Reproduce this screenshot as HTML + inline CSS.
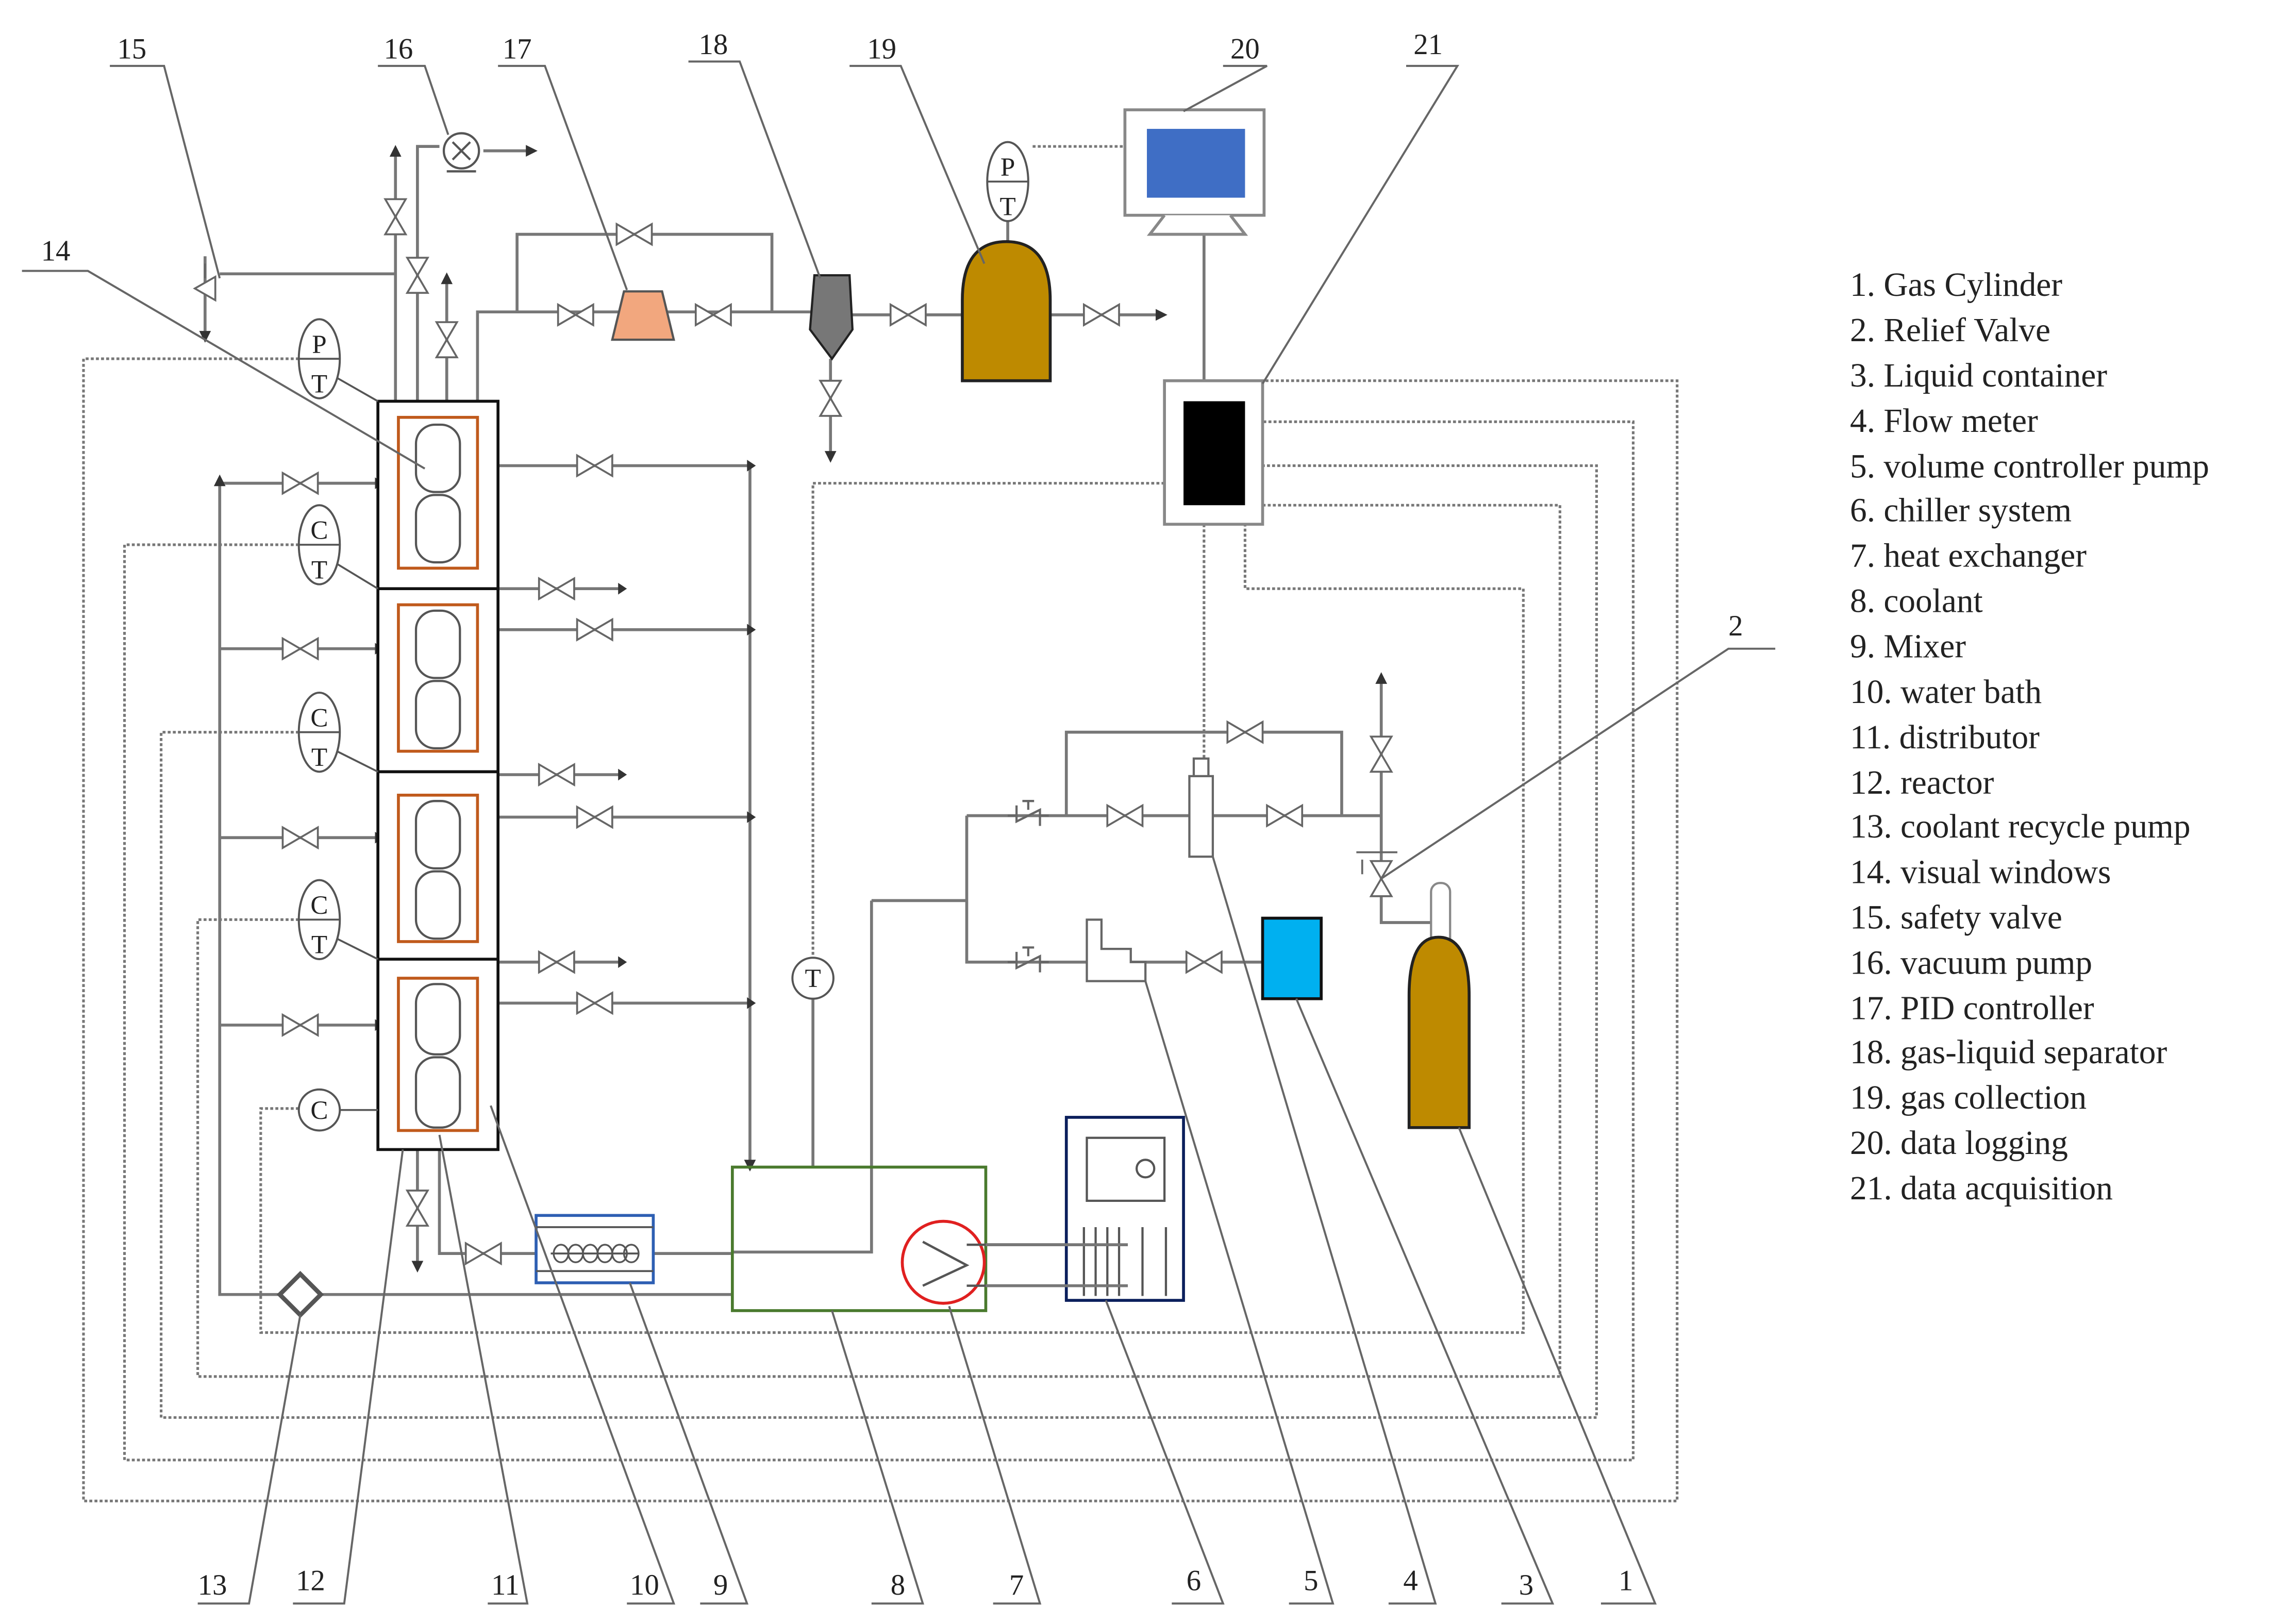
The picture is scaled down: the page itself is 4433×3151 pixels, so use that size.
<!DOCTYPE html>
<html><head><meta charset="utf-8"><style>
html,body{margin:0;padding:0;background:#fff}
svg{display:block}
text{font-family:"Liberation Serif",serif;fill:#222}
</style></head><body>
<svg width="4433" height="3151" viewBox="0 0 1560 1109" preserveAspectRatio="none" xmlns="http://www.w3.org/2000/svg">
<defs>
<g id="vh"><path d="M-12,-7 L12,7 L12,-7 L-12,7 Z" fill="#fff" stroke="#666" stroke-width="1.3"/></g>
<g id="vv"><path d="M-7,-12 L7,12 L-7,12 L7,-12 Z" fill="#fff" stroke="#666" stroke-width="1.3"/></g>
<g id="ck"><path d="M-14,0 L-8,0 M-8,-7 L-8,4 L8,-4 L8,7 M8,0 L14,0 M-4,-10 L4,-10 M0,-10 L0,-4" fill="none" stroke="#666" stroke-width="1.5"/></g>
</defs>
<rect width="1560" height="1109" fill="#fff"/>

<g fill="none" stroke="#777" stroke-width="1.8" stroke-dasharray="2,1.5">
<path d="M204,245 L57,245 L57,1025 L1145,1025 L1145,260 L862,260"/>
<path d="M204,372 L85,372 L85,997 L1115,997 L1115,288 L862,288"/>
<path d="M204,500 L110,500 L110,968 L1090,968 L1090,318 L862,318"/>
<path d="M204,628 L135,628 L135,940 L1065,940 L1065,345 L862,345"/>
<path d="M204,757 L178,757 L178,910 L1040,910 L1040,402 L850,402 L850,358"/>
<path d="M795,330 L555,330 L555,654"/>
<path d="M822,358 L822,530"/>
<path d="M705,100 L768,100"/>
</g>

<g fill="none" stroke="#777" stroke-width="2">
<path d="M150,330 L150,884 L500,884"/>
<path d="M150,330 L258,330 M150,443 L258,443 M150,572 L258,572 M150,700 L258,700"/>
<path d="M340,318 L512,318 M340,430 L512,430 M340,558 L512,558 M340,685 L512,685 M512,318 L512,797"/>
<path d="M340,402 L425,402 M340,529 L425,529 M340,657 L425,657"/>
<path d="M270,274 L270,105 M285,274 L285,100 L300,100 M330,103 L362,103 M305,274 L305,192 M326,274 L326,213 L555,213"/>
<path d="M150,187 L270,187 M140,175 L140,228"/>
<path d="M353,213 L353,160 L527,160 L527,213"/>
<path d="M582,215 L657,215 M717,215 L792,215 M567,245 L567,312"/>
<path d="M688,150 L688,165 M822,160 L822,260"/>
<path d="M300,785 L300,856 L366,856 M446,856 L500,856 M285,785 L285,865"/>
<path d="M660,557 L943,557 M728,557 L728,500 L916,500 L916,557 M943,465 L943,630 L983,630 L983,605"/>
<path d="M660,557 L660,657 L862,657 M595,615 L660,615 M595,615 L595,855 L500,855"/>
<path d="M555,682 L555,797 M673,850 L770,850 M673,878 L770,878"/>
</g>
<g fill="#333">
<path d="M150,324 l-4,8 h8z"/>
<path d="M270,99 l-4,8 h8z"/><path d="M305,186 l-4,8 h8z"/><path d="M943,459 l-4,8 h8z"/>
<path d="M367,103 l-8,-4 v8z"/><path d="M797,215 l-8,-4 v8z"/>
<path d="M140,234 l-4,-8 h8z"/><path d="M567,316 l-4,-8 h8z"/><path d="M285,869 l-4,-8 h8z"/>
<path d="M516,318 l-6,-4 v8z"/><path d="M516,430 l-6,-4 v8z"/><path d="M516,558 l-6,-4 v8z"/><path d="M516,685 l-6,-4 v8z"/>
<path d="M428,402 l-6,-4 v8z"/><path d="M428,529 l-6,-4 v8z"/><path d="M428,657 l-6,-4 v8z"/>
<path d="M262,330 l-6,-4 v8z"/><path d="M262,443 l-6,-4 v8z"/><path d="M262,572 l-6,-4 v8z"/><path d="M262,700 l-6,-4 v8z"/>
<path d="M512,800 l-4,-8 h8z"/>
</g>
<use href="#vh" x="205" y="330"/><use href="#vh" x="205" y="443"/><use href="#vh" x="205" y="572"/><use href="#vh" x="205" y="700"/>
<use href="#vh" x="406" y="318"/><use href="#vh" x="406" y="430"/><use href="#vh" x="406" y="558"/><use href="#vh" x="406" y="685"/>
<use href="#vh" x="380" y="402"/><use href="#vh" x="380" y="529"/><use href="#vh" x="380" y="657"/>
<use href="#vv" x="270" y="148"/><use href="#vv" x="285" y="188"/><use href="#vv" x="305" y="232"/>
<use href="#vh" x="433" y="160"/><use href="#vh" x="393" y="215"/><use href="#vh" x="487" y="215"/>
<use href="#vh" x="620" y="215"/><use href="#vh" x="752" y="215"/><use href="#vv" x="567" y="272"/>
<use href="#vh" x="330" y="856"/><use href="#vv" x="285" y="825"/>
<use href="#vh" x="850" y="500"/><use href="#vh" x="768" y="557"/><use href="#vh" x="877" y="557"/><use href="#vh" x="822" y="657"/>
<use href="#vv" x="943" y="515"/><use href="#vv" x="943" y="600"/>
<use href="#ck" x="702" y="557"/><use href="#ck" x="702" y="657"/>
<path d="M133,197 l14,-8 v16z M140,190 v-10" fill="#fff" stroke="#666" stroke-width="1.3"/>
<path d="M926,582 h28 M930,587 v10" stroke="#666" stroke-width="1.3" fill="none"/>

<rect x="258" y="274" width="82" height="511" fill="#fff" stroke="#111" stroke-width="2"/>
<path d="M258,402 H340 M258,527 H340 M258,655 H340" stroke="#111" stroke-width="2"/>
<g fill="none" stroke="#c05a1c" stroke-width="2">
<rect x="272" y="285" width="54" height="103"/><rect x="272" y="413" width="54" height="100"/>
<rect x="272" y="543" width="54" height="100"/><rect x="272" y="668" width="54" height="104"/>
</g>
<g fill="none" stroke="#555" stroke-width="1.5">
<rect x="284" y="290" width="30" height="46" rx="13"/><rect x="284" y="338" width="30" height="46" rx="13"/>
<rect x="284" y="417" width="30" height="46" rx="13"/><rect x="284" y="465" width="30" height="46" rx="13"/>
<rect x="284" y="547" width="30" height="46" rx="13"/><rect x="284" y="595" width="30" height="46" rx="13"/>
<rect x="284" y="672" width="30" height="48" rx="13"/><rect x="284" y="722" width="30" height="48" rx="13"/>
</g>
<g fill="#fff" stroke="#555" stroke-width="1.4">
<ellipse cx="218" cy="245" rx="14" ry="27"/><ellipse cx="218" cy="372" rx="14" ry="27"/>
<ellipse cx="218" cy="500" rx="14" ry="27"/><ellipse cx="218" cy="628" rx="14" ry="27"/>
<circle cx="218" cy="758" r="14"/><ellipse cx="688" cy="124" rx="14" ry="27"/><circle cx="555" cy="668" r="14"/>
</g>
<g stroke="#555" stroke-width="1.3">
<path d="M204,245 H232 M204,372 H232 M204,500 H232 M204,628 H232 M674,124 H702"/>
<path d="M230,258 L258,274 M230,385 L258,402 M230,513 L258,527 M230,641 L258,655 M232,758 L258,758"/>
</g>
<g font-size="18" text-anchor="middle">
<text x="218" y="241">P</text><text x="218" y="268">T</text>
<text x="218" y="368">C</text><text x="218" y="395">T</text>
<text x="218" y="496">C</text><text x="218" y="523">T</text>
<text x="218" y="624">C</text><text x="218" y="651">T</text>
<text x="218" y="764">C</text><text x="688" y="120">P</text><text x="688" y="147">T</text>
<text x="555" y="674">T</text>
</g>
<circle cx="315" cy="103" r="12" fill="#fff" stroke="#555" stroke-width="1.5"/>
<path d="M309,97 l12,12 M321,97 l-12,12 M305,117 h20" stroke="#555" stroke-width="1.5"/>
<path d="M426,199 H452 L460,232 H418 Z" fill="#f2a77e" stroke="#555" stroke-width="1.5"/>
<path d="M556,188 H580 L582,225 L568,245 L553,225 Z" fill="#777" stroke="#222" stroke-width="1.5"/>
<path d="M657,260 V205 Q657,165 687,165 Q717,165 717,205 V260 Z" fill="#be8a00" stroke="#222" stroke-width="2"/>
<rect x="768" y="75" width="95" height="72" fill="#fff" stroke="#888" stroke-width="2"/>
<rect x="783" y="88" width="67" height="47" fill="#3f6ec5"/>
<path d="M795,147 L785,160 H850 L840,147" fill="#fff" stroke="#888" stroke-width="2"/>
<rect x="795" y="260" width="67" height="98" fill="#fff" stroke="#888" stroke-width="2"/>
<rect x="808" y="274" width="42" height="71" fill="#000"/>
<rect x="812" y="530" width="16" height="55" fill="#fff" stroke="#666" stroke-width="1.5"/>
<rect x="815" y="518" width="10" height="12" fill="#fff" stroke="#666" stroke-width="1.5"/>
<path d="M742,628 H752 V648 H772 V657 H782 V670 H742 Z" fill="#fff" stroke="#666" stroke-width="1.5"/>
<rect x="862" y="627" width="40" height="55" fill="#00b0f0" stroke="#111" stroke-width="2"/>
<rect x="977" y="603" width="13" height="45" rx="6" fill="#fff" stroke="#888" stroke-width="1.5"/>
<path d="M962,770 V680 Q962,640 982,640 Q1003,640 1003,680 V770 Z" fill="#be8a00" stroke="#222" stroke-width="2"/>
<rect x="500" y="797" width="173" height="98" fill="none" stroke="#4a7a2e" stroke-width="2"/>
<circle cx="644" cy="862" r="28" fill="#fff" stroke="#e02020" stroke-width="2"/>
<path d="M630,848 L660,864 L630,878 M660,850 H673 M660,878 H673" fill="none" stroke="#555" stroke-width="1.6"/>
<rect x="728" y="763" width="80" height="125" fill="#fff" stroke="#0b1f5c" stroke-width="2"/>
<rect x="742" y="777" width="53" height="43" fill="none" stroke="#555" stroke-width="1.5"/>
<circle cx="782" cy="798" r="6" fill="none" stroke="#555" stroke-width="1.5"/>
<path d="M740,838 V885 M748,838 V885 M756,838 V885 M764,838 V885 M780,838 V885 M796,838 V885" stroke="#555" stroke-width="1.5"/>
<path d="M673,850 H770 M673,878 H770" stroke="#777" stroke-width="2"/>
<rect x="366" y="830" width="80" height="46" fill="#fff" stroke="#2e5fb3" stroke-width="2"/>
<path d="M366,838 H446 M366,868 H446 M376,856 H436" stroke="#555" stroke-width="1.3"/>
<g fill="none" stroke="#555" stroke-width="1.2"><ellipse cx="383" cy="856" rx="5" ry="6"/><ellipse cx="393" cy="856" rx="5" ry="6"/><ellipse cx="403" cy="856" rx="5" ry="6"/><ellipse cx="413" cy="856" rx="5" ry="6"/><ellipse cx="423" cy="856" rx="5" ry="6"/><ellipse cx="431" cy="856" rx="5" ry="6"/></g>
<path d="M205,870 L219,884 L205,898 L191,884 Z" fill="#fff" stroke="#555" stroke-width="3"/>

<g fill="none" stroke="#666" stroke-width="1.4">
<path d="M75,45 H112 L150,190"/>
<path d="M258,45 H290 L306,92"/>
<path d="M340,45 H372 L428,198"/>
<path d="M470,42 H505 L560,190"/>
<path d="M580,45 H615 L672,180"/>
<path d="M835,45 H865 L808,76"/>
<path d="M960,45 H995 L862,262"/>
<path d="M15,185 H60 L290,320"/>
<path d="M1212,443 H1180 L943,600"/>
<path d="M135,1095 H170 L205,898"/>
<path d="M200,1095 H235 L275,785"/>
<path d="M333,1095 H360 L300,775"/>
<path d="M428,1095 H460 L335,755"/>
<path d="M478,1095 H510 L430,876"/>
<path d="M595,1095 H630 L568,895"/>
<path d="M678,1095 H710 L648,892"/>
<path d="M800,1095 H835 L755,888"/>
<path d="M880,1095 H910 L782,670"/>
<path d="M948,1095 H980 L828,585"/>
<path d="M1025,1095 H1060 L885,682"/>
<path d="M1093,1095 H1130 L996,770"/>
</g>
<g font-size="20" text-anchor="middle">
<text x="90" y="40">15</text><text x="272" y="40">16</text><text x="353" y="40">17</text><text x="487" y="37">18</text>
<text x="602" y="40">19</text><text x="850" y="40">20</text><text x="975" y="37">21</text><text x="38" y="178">14</text>
<text x="1185" y="434">2</text>
<text x="145" y="1089">13</text><text x="212" y="1086">12</text><text x="345" y="1089">11</text><text x="440" y="1089">10</text>
<text x="492" y="1089">9</text><text x="613" y="1089">8</text><text x="694" y="1089">7</text><text x="815" y="1086">6</text>
<text x="895" y="1086">5</text><text x="963" y="1086">4</text><text x="1042" y="1089">3</text><text x="1110" y="1086">1</text>
</g>
<g font-size="23">
<text x="1263" y="202">1. Gas Cylinder</text>
<text x="1263" y="233">2. Relief Valve</text>
<text x="1263" y="264">3. Liquid container</text>
<text x="1263" y="295">4. Flow meter</text>
<text x="1263" y="326">5. volume controller pump</text>
<text x="1263" y="356">6. chiller system</text>
<text x="1263" y="387">7. heat exchanger</text>
<text x="1263" y="418">8. coolant</text>
<text x="1263" y="449">9. Mixer</text>
<text x="1263" y="480">10. water bath</text>
<text x="1263" y="511">11. distributor</text>
<text x="1263" y="542">12. reactor</text>
<text x="1263" y="572">13. coolant recycle pump</text>
<text x="1263" y="603">14. visual windows</text>
<text x="1263" y="634">15. safety valve</text>
<text x="1263" y="665">16. vacuum pump</text>
<text x="1263" y="696">17. PID controller</text>
<text x="1263" y="726">18. gas-liquid separator</text>
<text x="1263" y="757">19. gas collection</text>
<text x="1263" y="788">20. data logging</text>
<text x="1263" y="819">21. data acquisition</text>
</g>
</svg>
</body></html>
